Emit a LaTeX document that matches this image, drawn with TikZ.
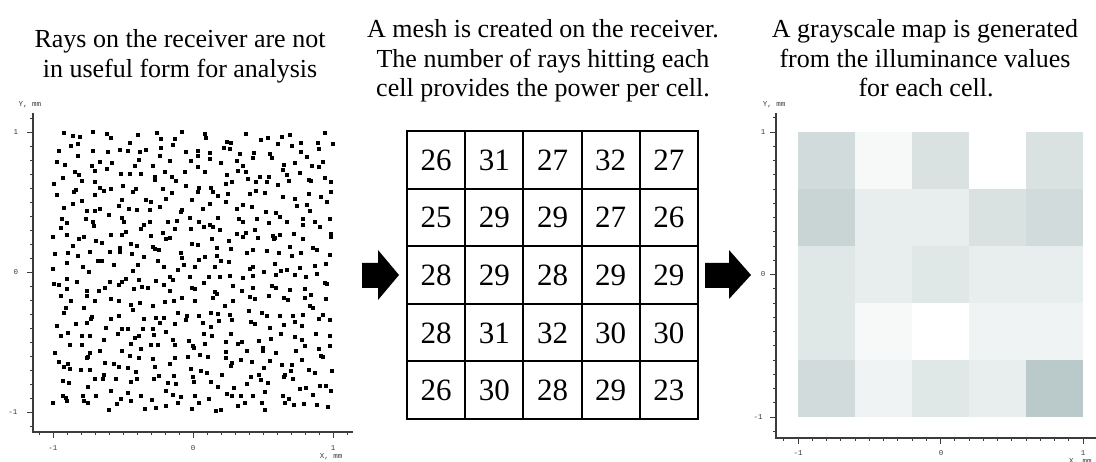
\documentclass[tikz,border=0pt]{standalone}
\usepackage{fontspec}
\setmainfont{Liberation Serif}
\newfontfamily\axisfont{Liberation Mono}
\definecolor{mapdark}{RGB}{186,201,201}
\definecolor{axisgray}{RGB}{60,60,60}
\begin{document}
\begin{tikzpicture}[x=1pt,y=-1pt,
  title/.style={font=\fontsize{26}{30}\selectfont, anchor=base, inner sep=0pt},
  cellnum/.style={font=\fontsize{31}{36}\selectfont, inner sep=0pt, anchor=base},
  ticklab/.style={font=\axisfont\fontsize{7.5}{9}\selectfont, text=axisgray, inner sep=0pt},
  axisline/.style={draw=axisgray, line width=1.1pt},
  tickline/.style={draw=axisgray, line width=0.8pt},
  gridline/.style={draw=black, line width=2pt},
  blockarrow/.style={fill=black}]
\useasboundingbox[fill=white] (0,0) rectangle (1096,462);

% ---------- titles ----------
\node[title] (t1a) at (180,48) {Rays on the receiver are not};
\node[title] (t1b) at (180,78) {in useful form for analysis};
\node[title] (t2a) at (543,38) {A mesh is created on the receiver.};
\node[title] (t2b) at (543,68) {The number of rays hitting each};
\node[title] (t2c) at (543,97) {cell provides the power per cell.};
\node[title] (t3a) at (925,38) {A grayscale map is generated};
\node[title] (t3b) at (925,68) {from the illuminance values};
\node[title] (t3c) at (926,97) {for each cell.};

% ---------- left: scattered rays (jittered sampling) ----------
\pgfmathsetseed{4711}
\foreach \i in {0,...,23}{
  \foreach \j in {0,...,23}{
    \pgfmathsetmacro{\px}{53+11.67*(\i+0.5+0.5*rand)}
    \pgfmathsetmacro{\py}{132+11.67*(\j+0.5+0.5*rand)}
    \fill ({\px-2},{\py-2}) rectangle ++(4,4);
  }
}
\draw[axisline] (33,113) -- (33,432) -- (353,432);
\foreach \k in {-11,...,11}{
  \pgfmathsetmacro{\len}{ifthenelse(mod(abs(\k),10)==0,6,3)}
  \draw[tickline] (33,{272-14*\k}) -- ++(-\len,0);
  \draw[tickline] ({193+14*\k},432) -- ++(0,\len);
}
\node[ticklab] (ly1) at (16,132) {1};
\node[ticklab] (ly0) at (16,272) {0};
\node[ticklab] (lym) at (13,412) {-1};
\node[ticklab] (lx1) at (53,448) {-1};
\node[ticklab] (lx0) at (193,448) {0};
\node[ticklab] (lx2) at (333,448) {1};
\node[ticklab] (lylab) at (30,105) {Y, mm};
\node[ticklab] (lxlab) at (331,457) {X, mm};

% ---------- arrows ----------
\fill[blockarrow] (362,263) -- (378,263) -- (378,250) -- (399,275)
  -- (378,300) -- (378,288) -- (362,288) -- cycle;
\fill[blockarrow] (705,263) -- (729,263) -- (729,250) -- (751,275)
  -- (729,299) -- (729,288) -- (705,288) -- cycle;

% ---------- middle: mesh with ray counts, right: grayscale cells ----------
\foreach \row [count=\r] in {{26,31,27,32,27},{25,29,29,27,26},{28,29,28,29,29},{28,31,32,30,30},{26,30,28,29,23}}{
  \foreach \v [count=\c] in \row {
    \node[cellnum] (n-\r-\c) at ({407+58.2*(\c-0.5)},{131+57.6*(\r-0.5)+10.5}) {\v};
    \pgfmathsetmacro{\p}{(32-\v)/9*100}
    \fill[mapdark!\p!white] ({798+57*(\c-1)},{132+57*(\r-1)}) rectangle ++(57,57);
  }
}
\foreach \k in {1,...,4}{
  \draw[gridline] ({407+58.2*\k},131) -- ({407+58.2*\k},419);
  \draw[gridline] (407,{131+57.6*\k}) -- (698,{131+57.6*\k});
}
\draw[gridline] (407,131) rectangle (698,419);

% ---------- right: grayscale map axes ----------
\draw[axisline] (776,113) -- (776,438) -- (1096,438);
\foreach \k in {-11,...,11}{
  \pgfmathsetmacro{\len}{ifthenelse(mod(abs(\k),10)==0,6,3)}
  \draw[tickline] (776,{274.5-14.25*\k}) -- ++(-\len,0);
}
\foreach \k in {-11,...,10}{
  \pgfmathsetmacro{\len}{ifthenelse(mod(abs(\k),10)==0,6,3)}
  \draw[tickline] ({940.5+14.25*\k},438) -- ++(0,\len);
}
\node[ticklab] (ry1) at (763,132) {1};
\node[ticklab] (ry0) at (763,274) {0};
\node[ticklab] (rym) at (758,417) {-1};
\node[ticklab] (rx1) at (798,453) {-1};
\node[ticklab] (rx0) at (941,453) {0};
\node[ticklab] (rx2) at (1083,453) {1};
\node[ticklab] (rylab) at (774,105) {Y, mm};
\node[ticklab, anchor=north west] (rxlab) at (1069,458) {X, mm};
\end{tikzpicture}
\end{document}
